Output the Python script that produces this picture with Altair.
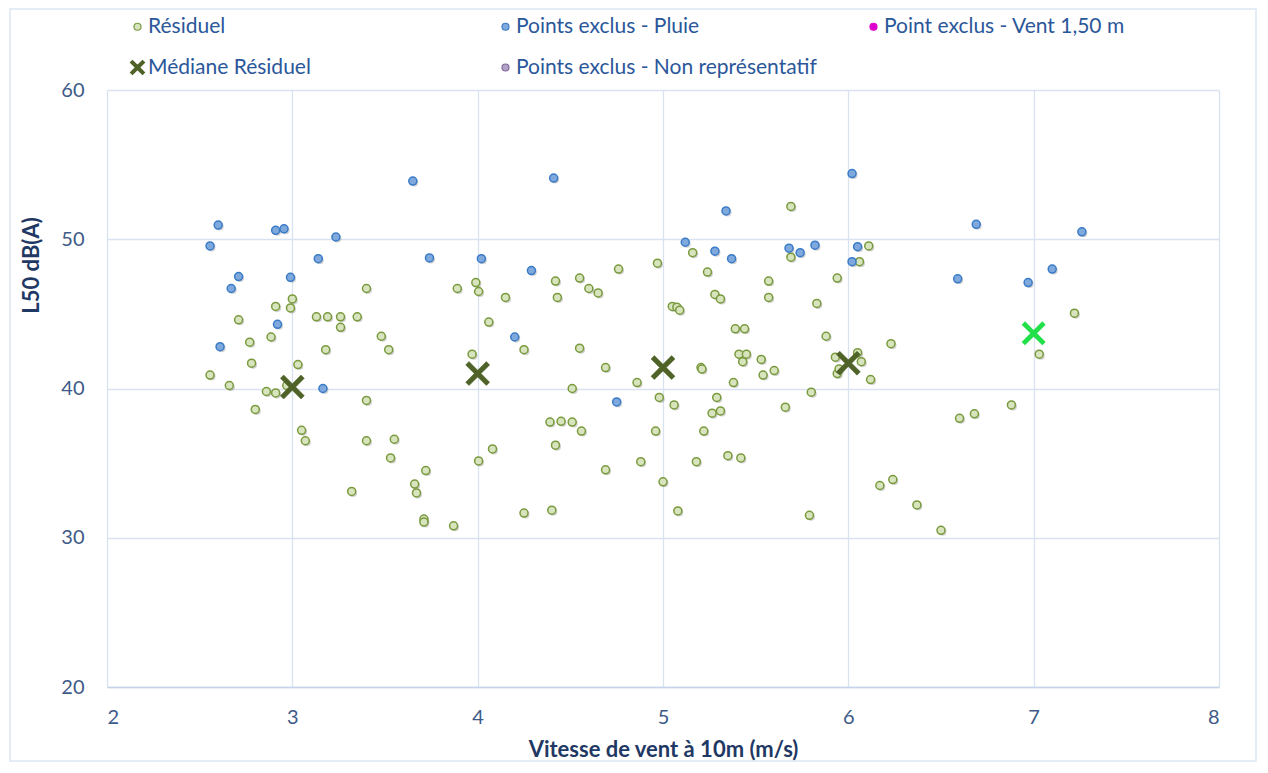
import altair as alt
import pandas as pd

# ---- data ----
res_x = [2.556, 2.66, 2.71, 2.77, 2.78, 2.80, 2.86, 2.885, 2.91, 2.91, 2.99, 3.00, 3.03, 3.05, 3.07,
         3.13, 3.19, 3.18, 3.26, 3.26, 3.35, 3.32, 3.40, 3.40, 3.40, 3.48, 3.52, 3.55, 3.53, 3.72,
         3.66, 3.67, 3.71, 3.71, 3.87, 2.97, 3.89, 3.99, 4.005, 4.15, 4.42, 4.43, 4.55, 4.60, 4.65,
         4.76, 4.97, 4.06, 3.97, 4.25, 4.55, 4.69, 4.86, 4.51, 4.98, 4.39, 4.45, 4.51, 4.56, 4.42,
         4.96, 4.08, 4.005, 4.69, 4.88, 4.25, 4.40, 5.06, 5.00, 5.08, 5.205, 5.21, 5.41, 5.45, 5.43,
         5.53, 5.54, 5.60, 5.38, 5.29, 5.265, 5.31, 5.22, 5.35, 5.42, 5.18, 5.66, 5.80, 5.79, 5.93,
         5.94, 5.95, 6.05, 6.07, 6.12, 6.23, 6.17, 6.24, 5.69, 5.16, 5.69, 6.11, 6.06, 5.24, 5.57,
         5.57, 5.94, 5.28, 5.31, 5.05, 5.075, 5.09, 5.83, 5.39, 5.44, 5.88, 7.22, 7.03, 6.88, 6.68,
         6.60, 6.37, 6.50]
res_y = [40.9, 40.2, 44.6, 43.1, 41.7, 38.6, 39.8, 43.45, 45.5, 39.7, 45.4, 46.0, 41.6, 37.2, 36.5,
         44.8, 44.8, 42.6, 44.8, 44.1, 44.8, 33.1, 46.7, 39.2, 36.5, 43.5, 42.6, 36.6, 35.35, 34.5,
         33.6, 33.0, 31.25, 31.05, 30.8, 40.2, 46.7, 47.1, 46.5, 46.1, 47.2, 46.1, 47.4, 46.7, 46.4,
         48.0, 48.4, 44.45, 42.3, 42.6, 42.7, 41.4, 40.4, 40.0, 39.4, 37.75, 37.8, 37.75, 37.15, 36.2,
         37.15, 35.95, 35.15, 34.55, 35.1, 31.65, 31.85, 38.9, 33.75, 31.8, 41.4, 41.3, 42.3, 42.3, 41.8,
         41.95, 40.9, 41.2, 40.4, 39.4, 38.35, 38.5, 37.15, 35.5, 35.35, 35.1, 38.75, 39.75, 31.5, 42.1,
         41.0, 41.3, 42.4, 41.8, 40.6, 43.0, 33.5, 33.9, 52.2, 49.1, 48.8, 49.55, 48.5, 47.8, 47.2,
         46.1, 47.4, 46.3, 46.0, 45.5, 45.45, 45.25, 45.7, 44.0, 44.0, 43.5, 45.05, 42.3, 38.9, 38.3,
         38.0, 32.2, 30.5]

pluie_x = [2.556, 2.60, 2.61, 2.67, 2.71, 2.91, 2.955, 2.92, 2.99, 3.14, 3.165, 3.235, 3.65, 3.74,
           4.02, 4.20, 4.29, 4.41, 4.75, 5.12, 5.28, 5.34, 5.37, 5.68, 5.74, 5.82, 6.02, 6.05, 6.02,
           6.59, 6.69, 6.97, 7.10, 7.26]
pluie_y = [49.55, 50.95, 42.8, 46.7, 47.5, 50.6, 50.7, 44.3, 47.45, 48.7, 40.0, 50.15, 53.9, 48.75,
           48.7, 43.45, 47.9, 54.1, 39.1, 49.8, 49.2, 51.9, 48.7, 49.4, 49.1, 49.6, 54.4, 49.5, 48.5,
           47.35, 51.0, 47.1, 48.0, 50.5]

med_x = [3, 4, 5, 6]
med_y = [40.1, 41.0, 41.4, 41.7]
med7_x = [7]
med7_y = [43.7]

# legend entries, listed column by column (legend fills columns first)
series = ["Résiduel", "Médiane Résiduel", "Points exclus - Pluie",
          "Points exclus - Non représentatif", "Point exclus - Vent 1,50 m"]
fills = ["#D7E4BD", "#4F6228", "#7FA9DC", "#B3A2C7", "#DD00CC"]
strokes = ["#7A9A3E", "#4F6228", "#3A7BC8", "#7F6A9A", "#DD00CC"]
XPATH = "M-2,-1.44L-1.44,-2L0,-0.56L1.44,-2L2,-1.44L0.56,0L2,1.44L1.44,2L0,0.56L-1.44,2L-2,1.44L-0.56,0Z"
shapes = ["circle", XPATH, "circle", "circle", "circle"]

pts = pd.concat([
    pd.DataFrame({"x": res_x, "y": res_y, "serie": "Résiduel"}),
    pd.DataFrame({"x": pluie_x, "y": pluie_y, "serie": "Points exclus - Pluie"}),
], ignore_index=True)
med = pd.DataFrame({"x": med_x, "y": med_y, "serie": "Médiane Résiduel"})
med7 = pd.DataFrame({"x": med7_x, "y": med7_y})

FONT = "Lato"
legend = alt.Legend(
    title=None, orient="none", legendX=20, legendY=-74, columns=3, gridAlign="all",
    columnPadding=46, rowPadding=19, symbolSize=49, symbolStrokeWidth=1.2,
    labelFont=FONT, labelFontSize=21, labelColor="#2B579A", labelOffset=0,
    labelLimit=500, padding=0,
)

xscale = alt.Scale(domain=[2, 8], nice=False, zero=False)
yscale = alt.Scale(domain=[20, 60], nice=False, zero=False)
xaxis = alt.Axis(values=[2, 3, 4, 5, 6, 7, 8], format="d", title="Vitesse de vent à 10m (m/s)",
                 titleY=62, titleBaseline="middle")
yaxis = alt.Axis(values=[20, 30, 40, 50, 60], format="d", title="L50 dB(A)", titleX=-64, titleY=175,
                 domain=False)

enc_common = dict(
    fill=alt.Fill("serie:N", scale=alt.Scale(domain=series, range=fills), legend=legend),
    stroke=alt.Stroke("serie:N", scale=alt.Scale(domain=series, range=strokes), legend=legend),
    shape=alt.Shape("serie:N", scale=alt.Scale(domain=series, range=shapes), legend=legend),
)

frame = alt.Chart(pd.DataFrame({"k": [0]})).mark_rect(
    fillOpacity=0, stroke="#DCE6F2", strokeWidth=1.5
).encode(x=alt.value(-97), x2=alt.value(1149), y=alt.value(-81), y2=alt.value(671))

shadow = alt.Chart(pts).mark_point(
    filled=True, size=64, color="#000000", opacity=0.18, xOffset=1.5, yOffset=1.5
).encode(x=alt.X("x:Q", scale=xscale, axis=xaxis), y=alt.Y("y:Q", scale=yscale, axis=yaxis))

points = alt.Chart(pts).mark_point(filled=True, size=64, strokeWidth=1.5, opacity=1).encode(
    x=alt.X("x:Q", scale=xscale, axis=xaxis), y=alt.Y("y:Q", scale=yscale, axis=yaxis), **enc_common
)

medians = alt.Chart(med).mark_point(filled=True, size=144, strokeWidth=0.5, opacity=1).encode(
    x="x:Q", y="y:Q", **enc_common
)

median7 = alt.Chart(med7).mark_point(
    filled=True, size=144, shape=XPATH, color="#22E04A", strokeWidth=0.5, opacity=1
).encode(x="x:Q", y="y:Q")

chart = alt.layer(frame, shadow, points, medians, median7).properties(
    width=1112, height=597,
    padding={"left": 99, "top": 82, "right": 41, "bottom": 76},
    autosize=alt.AutoSizeParams(type="none"),
).configure_view(stroke=None).configure_axis(
    grid=True, gridColor="#D9E2F0", gridWidth=1.3, ticks=False, tickSize=0,
    domainColor="#C5D3E8", domainWidth=1.5,
    labelFont=FONT, labelFontSize=20, labelColor="#3E5A88", labelPadding=20,
    titleFont=FONT, titleFontSize=22, titleFontWeight="bold", titleColor="#1F3864",
).configure_axisY(labelPadding=23)

chart.save("out.html", embed_options={"renderer": "svg", "actions": False})
